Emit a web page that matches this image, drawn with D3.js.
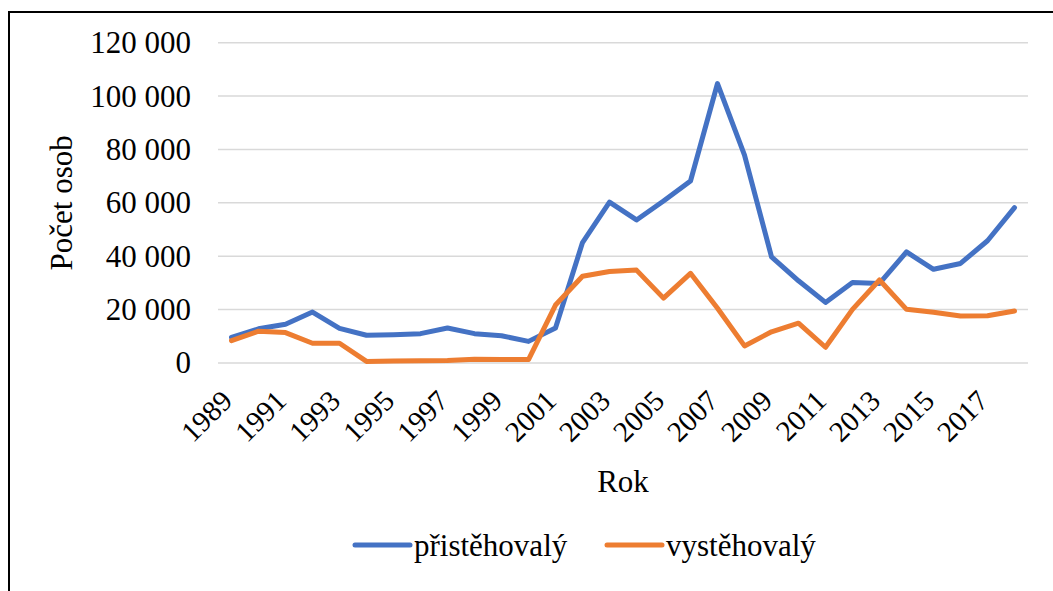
<!DOCTYPE html>
<html>
<head>
<meta charset="utf-8">
<script src="https://cdn.jsdelivr.net/npm/d3@7"></script>
</head>
<body style="margin:0; background:#fff">
<div id="chart"></div>
<script>
const WIDTH = 1053
const HEIGHT = 591
const FONT = "'Liberation Serif'"
const FONT_SIZE = '31px'

const years = d3.range(1989, 2019)
const tickYears = years.filter((y, i) => i % 2 === 0)
const yTicks = [0, 20000, 40000, 60000, 80000, 100000, 120000]

// přistěhovalí (immigrants)
const prist = [9600, 12800, 14500, 19100, 13000, 10400, 10600, 11000, 13100, 11000,
  10200, 8100, 13100, 45100, 60300, 53600, 60700, 68200, 104700, 77900,
  39800, 30800, 22700, 30200, 29800, 41600, 35100, 37300, 45800, 58200]
// vystěhovalí (emigrants)
const vyst = [8400, 11900, 11400, 7400, 7400, 600, 750, 850, 950, 1400,
  1300, 1300, 21700, 32500, 34300, 34800, 24300, 33600, 20500, 6400,
  11700, 14900, 5900, 20100, 31100, 20100, 19000, 17600, 17700, 19500]

const series = [
  { name: 'přistěhovalý', values: prist, color: '#4472C4' },
  { name: 'vystěhovalý', values: vyst, color: '#ED7D31' }
]

const margin = { left: 218, right: 25, top: 42.7, bottom: 228 }

const svg = d3.select('#chart').append('svg')
    .attr('width', WIDTH).attr('height', HEIGHT)
    .style('font-family', FONT)

// outer frame (only top and left edges are visible)
svg.append('rect')
    .attr('x', 9).attr('y', 12)
    .attr('width', 1200).attr('height', 800)
    .attr('fill', 'none')
    .attr('stroke', '#000')
    .attr('stroke-width', 2)

let x = d3.scaleBand()
    .domain(years)
    .range([margin.left, WIDTH - margin.right])

let y = d3.scaleLinear()
    .domain([0, 120000])
    .range([HEIGHT - margin.bottom, margin.top])

const fmt = d => d3.format(',')(d).replace(/,/g, ' ')

// gridlines
const grid = svg.append('g')
grid.selectAll('line')
    .data(yTicks)
    .enter()
    .append('line')
    .attr('x1', margin.left)
    .attr('x2', WIDTH - margin.right)
    .attr('y1', d => y(d))
    .attr('y2', d => y(d))
    .attr('stroke', '#d9d9d9')
    .attr('stroke-width', 1.5)

// y axis labels
const yAxis = svg.append('g')
    .attr('transform', `translate(${margin.left - 27},0)`)
    .call(d3.axisLeft(y).tickValues(yTicks).tickFormat(fmt).tickSize(0).tickPadding(0))
yAxis.select('.domain').remove()

// x axis labels, rotated
const xAxis = svg.append('g')
    .attr('transform', `translate(0,${y(0)})`)
    .call(d3.axisBottom(x).tickValues(tickYears).tickSize(0).tickPadding(0))
xAxis.select('.domain').remove()
xAxis.selectAll('text')
    .attr('class', 'xtick')
    .attr('text-anchor', 'end')
    .attr('dy', null)
    .attr('y', 0)
    .attr('transform', 'translate(2.5,39.5) rotate(-45)')

// axis titles
svg.append('text')
    .attr('transform', `translate(72,${(y(0) + y(120000)) / 2}) rotate(-90)`)
    .attr('text-anchor', 'middle')
    .text('Počet osob')

svg.append('text')
    .attr('x', (margin.left + WIDTH - margin.right) / 2)
    .attr('y', 492)
    .attr('text-anchor', 'middle')
    .text('Rok')

// lines
const line = d3.line()
    .x((d, i) => x(years[i]) + x.bandwidth() / 2)
    .y(d => y(d))

svg.append('g').selectAll('path')
    .data(series)
    .enter()
    .append('path')
    .attr('d', d => line(d.values))
    .attr('fill', 'none')
    .attr('stroke', d => d.color)
    .attr('stroke-width', 5)
    .attr('stroke-linejoin', 'round')
    .attr('stroke-linecap', 'round')

// legend
const legendX = [355, 607]
const legend = svg.append('g').selectAll('g')
    .data(series)
    .enter()
    .append('g')
    .attr('transform', (d, i) => `translate(${legendX[i]},545)`)
legend.append('line')
    .attr('x1', 0).attr('x2', 55)
    .attr('stroke', d => d.color)
    .attr('stroke-width', 5)
    .attr('stroke-linecap', 'round')
legend.append('text')
    .attr('x', 59)
    .attr('y', 11)
    .text(d => d.name)

// same font for every label
svg.selectAll('g').attr('font-family', null).attr('font-size', null)
svg.selectAll('text')
    .attr('font-family', null)
    .style('font-family', FONT)
    .style('font-size', FONT_SIZE)
    .attr('fill', '#000')
svg.selectAll('text.xtick').style('font-size', '29px')
</script>
</body>
</html>
